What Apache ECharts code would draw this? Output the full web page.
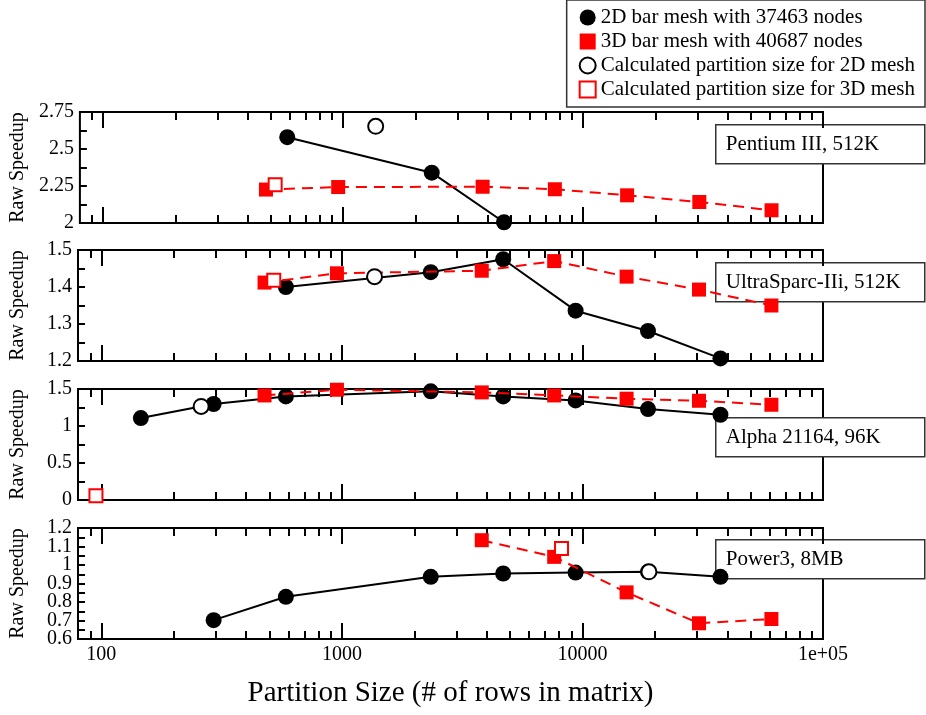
<!DOCTYPE html>
<html>
<head>
<meta charset="utf-8">
<script src="https://cdn.jsdelivr.net/npm/echarts@6/dist/echarts.min.js"></script>
<style>
  html, body { margin: 0; padding: 0; background: #fff; }
  #mychart { width: 926px; height: 715px; }
</style>
</head>
<body>
<div id="mychart"></div>
<script>
// partition sizes (rows in matrix)
const xBlack = [146, 293, 585, 2341, 4683, 9366, 18731, 37463];
const xRed = [477, 954, 3815, 7630, 15260, 30520, 61030];

// Pentium III, 512K
const pentiumBlackX = [585, 2341, 4683];
const pentiumBlackY = [2.58, 2.34, 2.005];
const pentiumRedX = xRed;
const pentiumRedY = [2.226, 2.243, 2.245, 2.228, 2.187, 2.142, 2.086];
const pentiumCalc2D = [1367, 2.653];
const pentiumCalc3D = [521, 2.259];

// UltraSparc-IIi, 512K
const ultraBlackX = [585, 2341, 4683, 9366, 18731, 37463];
const ultraBlackY = [1.40, 1.44, 1.475, 1.336, 1.281, 1.207];
const ultraRedX = xRed;
const ultraRedY = [1.412, 1.437, 1.444, 1.470, 1.428, 1.393, 1.350];
const ultraCalc2D = [1367, 1.428];
const ultraCalc3D = [521, 1.418];

// Alpha 21164, 96K
const alphaBlackX = xBlack;
const alphaBlackY = [1.107, 1.297, 1.40, 1.468, 1.40, 1.346, 1.229, 1.152];
const alphaRedX = xRed;
const alphaRedY = [1.413, 1.49, 1.454, 1.413, 1.369, 1.341, 1.287];
const alphaCalc2D = [260, 1.264];
const alphaCalc3D = [95, 0.058];

// Power3, 8MB
const powerBlackX = [293, 585, 2341, 4683, 9366, 18731, 37463];
const powerBlackY = [0.702, 0.828, 0.936, 0.954, 0.959, 0.963, 0.936];
const powerRedX = [3815, 7630, 15260, 30520, 61030];
const powerRedY = [1.134, 1.044, 0.852, 0.685, 0.708];
const powerCalc2D = [18900, 0.963];
const powerCalc3D = [8185, 1.089];

// axes
const majorTicks = [100, 1000, 10000, 100000];
const minorTicks = [90, 200, 300, 400, 500, 600, 700, 800, 900,
  2000, 3000, 4000, 5000, 6000, 7000, 8000, 9000,
  20000, 30000, 40000, 50000, 60000, 70000, 80000, 90000];
const panelNames = ['Pentium III, 512K', 'UltraSparc-IIi, 512K', 'Alpha 21164, 96K', 'Power3, 8MB'];
const yMin = [2, 1.2, 0, 0.6];
const yMax = [2.75, 1.5, 1.5, 1.2];
const yStep = [0.25, 0.1, 0.5, 0.1];
const yLabels = [
  [2, 2.25, 2.5, 2.75],
  [1.2, 1.3, 1.4, 1.5],
  [0, 0.5, 1, 1.5],
  [0.6, 0.8, 1, 1.2]
];
// Power3 labels in between (second label axis so they are not dropped as overlapping)
const powerLabelsOdd = [0.7, 0.9, 1.1];

const names = ['2D bar mesh with 37463 nodes', '3D bar mesh with 40687 nodes',
  'Calculated partition size for 2D mesh', 'Calculated partition size for 3D mesh'];

const panels = [
  [pentiumBlackX, pentiumBlackY, pentiumRedX, pentiumRedY, pentiumCalc2D, pentiumCalc3D],
  [ultraBlackX, ultraBlackY, ultraRedX, ultraRedY, ultraCalc2D, ultraCalc3D],
  [alphaBlackX, alphaBlackY, alphaRedX, alphaRedY, alphaCalc2D, alphaCalc3D],
  [powerBlackX, powerBlackY, powerRedX, powerRedY, powerCalc2D, powerCalc3D]
];

const FONT = "'Liberation Serif', 'DejaVu Serif', serif";
const gridTops = [112, 250, 389, 528];
const boxTops = [124, 262, 417, 539];

function pairs(xs, ys) {
  return xs.map(function (x, i) { return [x, ys[i]]; });
}

let grids = [], xAxes = [], yAxes = [], series = [], graphics = [];

gridTops.forEach(function (top, g) {
  grids.push({ left: 75, right: 103, top: top, height: 111, show: true,
    borderColor: '#000', borderWidth: 2, backgroundColor: 'transparent' });

  const last = g === 3;
  function xa(pos, ticks, len, labels) {
    return {
      type: 'log', gridIndex: g, position: pos, min: 80, max: 100000,
      axisLine: { show: false },
      splitLine: { show: false },
      axisTick: { inside: true, length: len, customValues: ticks, lineStyle: { color: '#000', width: 2 } },
      axisLabel: labels ? {
        show: true, customValues: majorTicks, margin: 6, color: '#000', fontSize: 20, fontFamily: FONT,
        formatter: function (v) { return v >= 100000 ? '1e+05' : String(v); }
      } : { show: false }
    };
  }
  const bottomMajor = xa('bottom', majorTicks, 16, last);
  if (last) {
    bottomMajor.name = 'Partition Size (# of rows in matrix)';
    bottomMajor.nameLocation = 'middle';
    bottomMajor.nameGap = 40;
    bottomMajor.nameTextStyle = { fontSize: 29, fontFamily: FONT, color: '#000' };
  }
  xAxes.push(bottomMajor);
  xAxes.push(xa('top', majorTicks, 16, false));
  xAxes.push(xa('bottom', minorTicks, 8, false));
  xAxes.push(xa('top', minorTicks, 8, false));

  yAxes.push({
    type: 'value', gridIndex: g, position: 'left', min: yMin[g], max: yMax[g], interval: yStep[g],
    name: 'Raw Speedup', nameLocation: 'middle', nameGap: 50,
    nameTextStyle: { fontSize: 20, fontFamily: FONT, color: '#000' },
    axisLine: { show: false },
    splitLine: { show: false },
    axisTick: { inside: true, length: 7, lineStyle: { color: '#000', width: 2 } },
    minorTick: { show: true, splitNumber: 2, length: 7, lineStyle: { color: '#000', width: 2 } },
    axisLabel: {
      customValues: yLabels[g], margin: 6, hideOverlap: false,
      color: '#000', fontSize: 20, fontFamily: FONT
    }
  });

  const d = panels[g];
  const xi = g * 4;
  series.push({
    name: names[0], type: 'line', xAxisIndex: xi, yAxisIndex: g, data: pairs(d[0], d[1]),
    symbol: 'circle', symbolSize: 16, showAllSymbol: true, z: 3,
    lineStyle: { color: '#000', width: 2 }, itemStyle: { color: '#000' }
  });
  series.push({
    name: names[1], type: 'line', xAxisIndex: xi, yAxisIndex: g, data: pairs(d[2], d[3]),
    symbol: 'rect', symbolSize: 14, showAllSymbol: true, z: 4,
    lineStyle: { color: '#ff0000', width: 2, type: [11, 7] }, itemStyle: { color: '#ff0000' }
  });
  series.push({
    name: names[2], type: 'scatter', xAxisIndex: xi, yAxisIndex: g, data: [d[4]],
    symbol: 'circle', symbolSize: 15, z: 5,
    itemStyle: { color: '#fff', borderColor: '#000', borderWidth: 2, opacity: 1 }
  });
  series.push({
    name: names[3], type: 'scatter', xAxisIndex: xi, yAxisIndex: g, data: [d[5]],
    symbol: 'rect', symbolSize: 13, z: 5,
    itemStyle: { color: '#fff', borderColor: '#ff0000', borderWidth: 2, opacity: 1 }
  });

  graphics.push({
    type: 'group', left: 715, top: boxTops[g], z: 100,
    children: [
      { type: 'rect', shape: { x: 0, y: 0, width: 209, height: 39 },
        style: { fill: '#fff', stroke: '#333', lineWidth: 1.5 } },
      { type: 'text', x: 10, y: 20,
        style: { text: panelNames[g], font: '21px ' + FONT, fill: '#000', verticalAlign: 'middle' } }
    ]
  });
});

// extra label-only axis for the Power3 panel
yAxes.push({
  type: 'value', gridIndex: 3, position: 'left', min: yMin[3], max: yMax[3], interval: yStep[3],
  axisLine: { show: false }, splitLine: { show: false }, axisTick: { show: false },
  axisLabel: { customValues: powerLabelsOdd, margin: 6, color: '#000', fontSize: 20, fontFamily: FONT }
});

const chart = echarts.init(document.getElementById('mychart'));
chart.setOption({
  animation: false,
  backgroundColor: '#fff',
  grid: grids,
  xAxis: xAxes,
  yAxis: yAxes,
  legend: {
    orient: 'vertical', right: 1, top: 0, selectedMode: false,
    backgroundColor: '#fff', borderColor: '#333', borderWidth: 1.5,
    padding: [7, 10, 7, 12], itemGap: 3, itemWidth: 16, itemHeight: 16,
    textStyle: { fontSize: 21, fontFamily: FONT, color: '#000' },
    data: [
      { name: names[0], icon: 'circle', itemStyle: { color: '#000' } },
      { name: names[1], icon: 'rect', itemStyle: { color: '#ff0000' } },
      { name: names[2], icon: 'circle', itemStyle: { color: '#fff', borderColor: '#000', borderWidth: 2 } },
      { name: names[3], icon: 'rect', itemStyle: { color: '#fff', borderColor: '#ff0000', borderWidth: 2 } }
    ]
  },
  graphic: graphics,
  series: series
});
</script>
</body>
</html>
